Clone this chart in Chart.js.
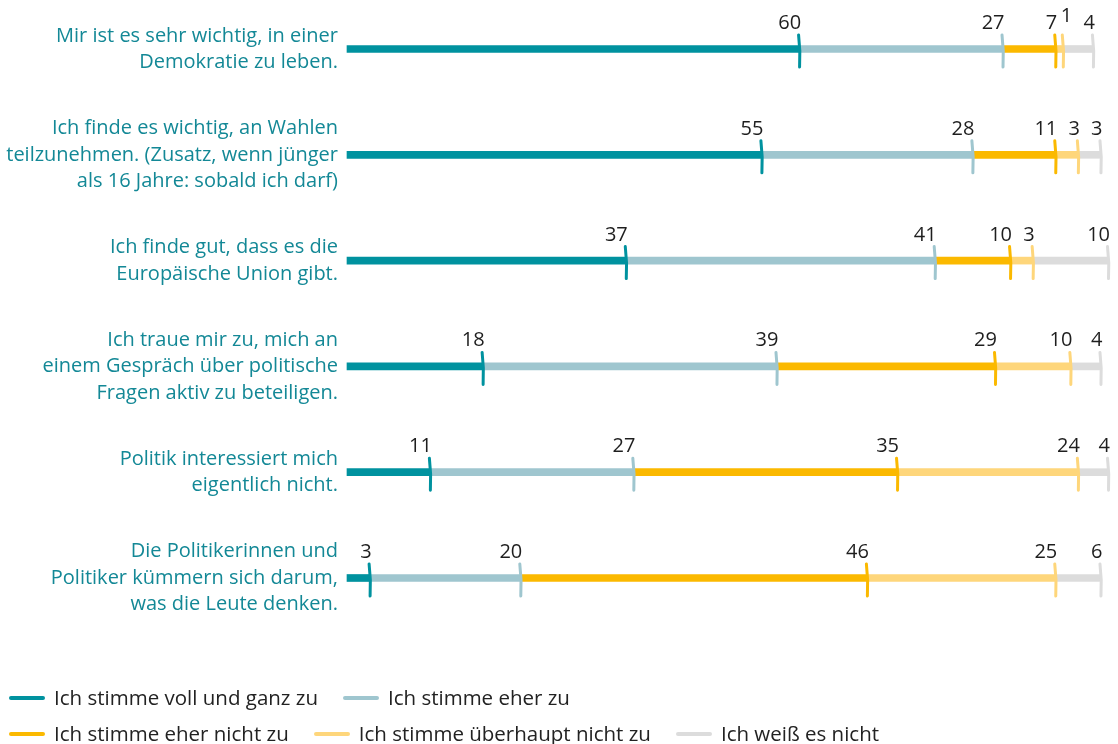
<!DOCTYPE html>
<html lang="de">
<head>
<meta charset="utf-8">
<title>Demokratie – Zustimmung</title>
<script src="https://cdn.jsdelivr.net/npm/chart.js@4/dist/chart.umd.min.js"></script>
<style>
  body { margin: 0; background: #fff; font-family: "Open Sans", Lato, sans-serif; }
  #wrap { position: relative; width: 1118px; height: 744px; }
  #wrap canvas { position: absolute; left: 0; top: 0; }
  #legend { position: absolute; left: 9px; top: 679px; color: #222; font-size: 20.5px; }
  .legend-row { display: flex; align-items: center; height: 36px; }
  .legend-item { display: flex; align-items: center; margin-right: 25px; }
  .legend-mark { width: 36px; height: 4px; border-radius: 2px; margin-right: 9px; margin-top: 2px; }
</style>
</head>
<body>
<div id="wrap">
  <canvas id="survey-chart" width="1118" height="744"></canvas>
  <div id="legend"></div>
</div>
<script>
// ------------------ DATA -------------------//
const statements = [
    ["Mir ist es sehr wichtig, in einer", "Demokratie zu leben."],
    ["Ich finde es wichtig, an Wahlen", "teilzunehmen. (Zusatz, wenn jünger", "als 16 Jahre: sobald ich darf)"],
    ["Ich finde gut, dass es die", "Europäische Union gibt."],
    ["Ich traue mir zu, mich an", "einem Gespräch über politische", "Fragen aktiv zu beteiligen."],
    ["Politik interessiert mich", "eigentlich nicht."],
    ["Die Politikerinnen und", "Politiker kümmern sich darum,", "was die Leute denken."]
];
const answerLabels = ["Ich stimme voll und ganz zu", "Ich stimme eher zu", "Ich stimme eher nicht zu",
    "Ich stimme überhaupt nicht zu", "Ich weiß es nicht"];
const fullyAgree    = [60, 55, 37, 18, 11, 3];
const ratherAgree   = [27, 28, 41, 39, 27, 20];
const ratherNot     = [7, 11, 10, 29, 35, 46];
const notAtAll      = [1, 3, 3, 10, 24, 25];
const dontKnow      = [4, 3, 10, 4, 4, 6];

const answerColors = ['#00929f', '#9fc6cf', '#fbb900', '#fed67b', '#dcdcdc'];
const legendRows = [[0, 1], [2, 3, 4]];

// ------------------ CHART -------------------//
const seriesValues = [fullyAgree, ratherAgree, ratherNot, notAtAll, dontKnow];
const surveyData = {
    labels: statements,
    datasets: seriesValues.map((values, i) => ({
        label: answerLabels[i],
        data: values,
        backgroundColor: answerColors[i],
        borderWidth: 0,
        barThickness: 7,
        clip: false
    }))
};

// tick mark + number at the end of every segment
const segmentEnds = {
    id: 'segmentEnds',
    afterDatasetsDraw(chart) {
        const ctx = chart.ctx;
        ctx.save();
        ctx.font = '20px "Open Sans", Lato, sans-serif';
        ctx.textBaseline = 'alphabetic';
        ctx.textAlign = 'left';
        chart.data.labels.forEach((lbl, row) => {
            let prevRight = -Infinity;
            chart.data.datasets.forEach((ds, d) => {
                const bar = chart.getDatasetMeta(d).data[row];
                const x = bar.x, y = bar.y;
                // tick
                ctx.strokeStyle = ds.backgroundColor;
                ctx.lineWidth = 3;
                ctx.lineCap = 'round';
                ctx.beginPath();
                ctx.moveTo(x - 0.5, y - 14);
                ctx.quadraticCurveTo(x + 1.5, y + 2, x + 0.5, y + 18);
                ctx.stroke();
                // number
                const txt = String(ds.data[row]);
                const w = ctx.measureText(txt).width;
                let left = x + 2 - w;
                let base = y - 20;
                if (left < prevRight + 1) {
                    left = x - 2;
                    base -= 7;
                }
                ctx.fillStyle = '#1e1e1e';
                ctx.fillText(txt, left, base);
                prevRight = left + w;
            });
        });
        ctx.restore();
    }
};

const surveyOptions = {
    indexAxis: 'y',
    responsive: false,
    animation: { duration: 0 },
    layout: { padding: { top: 49, bottom: 166, left: 0, right: 10 } },
    scales: {
        x: {
            stacked: true,
            min: 0,
            max: 101,
            display: false
        },
        y: {
            stacked: true,
            offset: false,
            grid: { display: false, drawTicks: false },
            border: { display: false },
            ticks: {
                autoSkip: false,
                padding: 9,
                color: '#138896',
                font: { family: '"Open Sans", Lato, sans-serif', size: 20, lineHeight: 1.32 }
            },
            afterFit(scale) { scale.width = 347; }
        }
    },
    plugins: {
        legend: { display: false },
        tooltip: { enabled: false }
    }
};

const surveyChart = new Chart(document.getElementById('survey-chart'), {
    type: 'bar',
    data: surveyData,
    options: surveyOptions,
    plugins: [segmentEnds]
});

// ------------------ LEGEND -------------------//
const legend = document.getElementById('legend');
legend.innerHTML = legendRows.map(row =>
    `<div class="legend-row">` + row.map(i =>
        `<div class="legend-item"><span class="legend-mark" style="background:${answerColors[i]}"></span>${answerLabels[i]}</div>`
    ).join('') + `</div>`
).join('');
</script>
</body>
</html>
